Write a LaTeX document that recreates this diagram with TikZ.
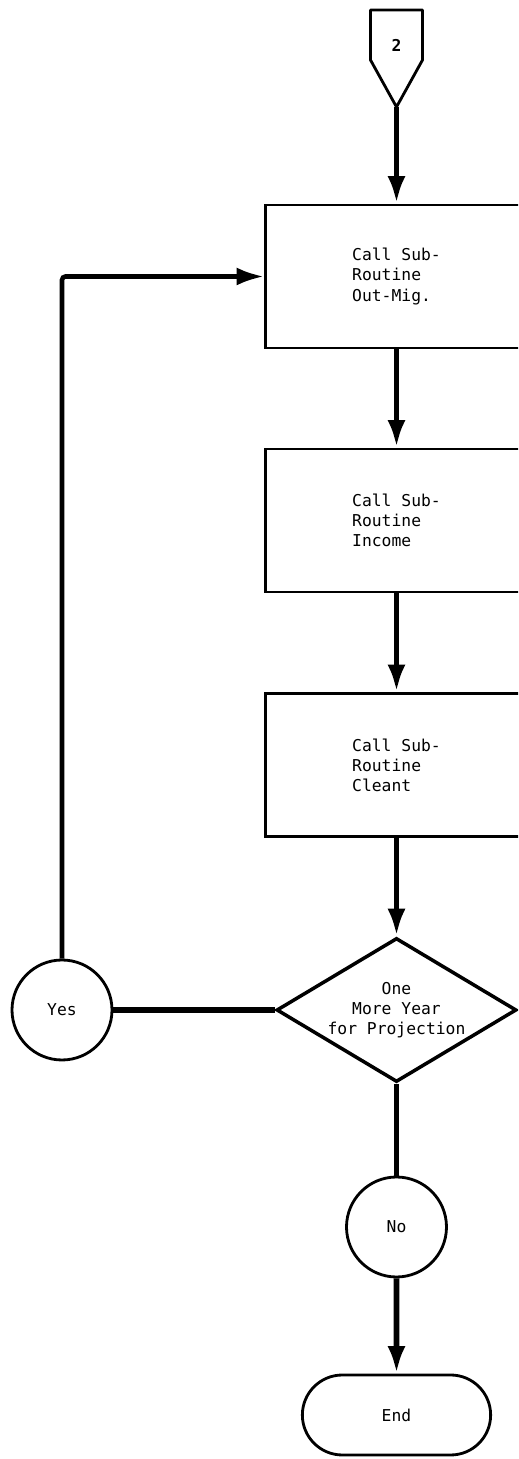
\documentclass[tikz,border=0pt]{standalone}
\usepackage{fontspec}
\setmonofont{DejaVu Sans Mono}
\usetikzlibrary{arrows.meta,positioning,shapes.geometric,shapes.misc}

\begin{document}
\begin{tikzpicture}[
  >=Latex,
  every node/.style={font=\ttfamily\fontsize{9.3}{11.4}\selectfont},
  proc/.style={draw,line width=1.6pt,minimum width=5.24cm,minimum height=2.86cm,align=left},
  decision/.style={diamond,draw,line width=2pt,aspect=1.64,inner sep=0pt,
    minimum width=4.8cm,minimum height=2.88cm,align=center},
  conn/.style={circle,draw,line width=1.6pt,minimum size=2cm},
  term/.style={rounded rectangle,draw,line width=1.6pt,minimum width=4cm,minimum height=1.6cm},
  flow/.style={-{Latex[length=5.5mm,width=3.6mm]},line width=3.2pt},
  link/.style={line width=3pt}
]
  \useasboundingbox (0,0) rectangle (10.36,29.18);
  \clip (0,0) rectangle (10.36,29.18);

  % off-page connector
  \draw[line width=1.6pt,line join=round]
    (7.41,28.98) -- (8.45,28.98) -- (8.45,27.98) -- (7.93,27.04) -- (7.41,27.98) -- cycle;
  \node (pg) at (7.93,28.28) {\bfseries 2};
  \coordinate (pgtip) at (7.93,27.04);

  \node[proc] (outmig) at (7.93,23.65) {Call Sub-\\Routine\\Out-Mig.};
  \node[proc] (income) at (7.93,18.77) {Call Sub-\\Routine\\Income};
  \node[proc] (cleant) at (7.93,13.88) {Call Sub-\\Routine\\Cleant};
  \node[decision] (more) at (7.93,8.98) {One\\More Year\\for Projection};
  \node[conn] (yes) at (1.24,8.98) {Yes};
  \node[conn] (no) at (7.93,4.64) {No};
  \node[term] (end) at (7.93,0.88) {End};

  \draw[flow] (pgtip) -- (outmig);
  \draw[flow] (outmig) -- (income);
  \draw[flow] (income) -- (cleant);
  \draw[flow] (cleant) -- (more);
  \draw[link] (more) -- (no);
  \draw[flow] (no) -- (end);
  % loop back for another year
  \draw[link] (yes) -- (more);
  \draw[flow,line width=2.6pt,rounded corners=2pt] (yes) |- (outmig.west);
\end{tikzpicture}
\end{document}
